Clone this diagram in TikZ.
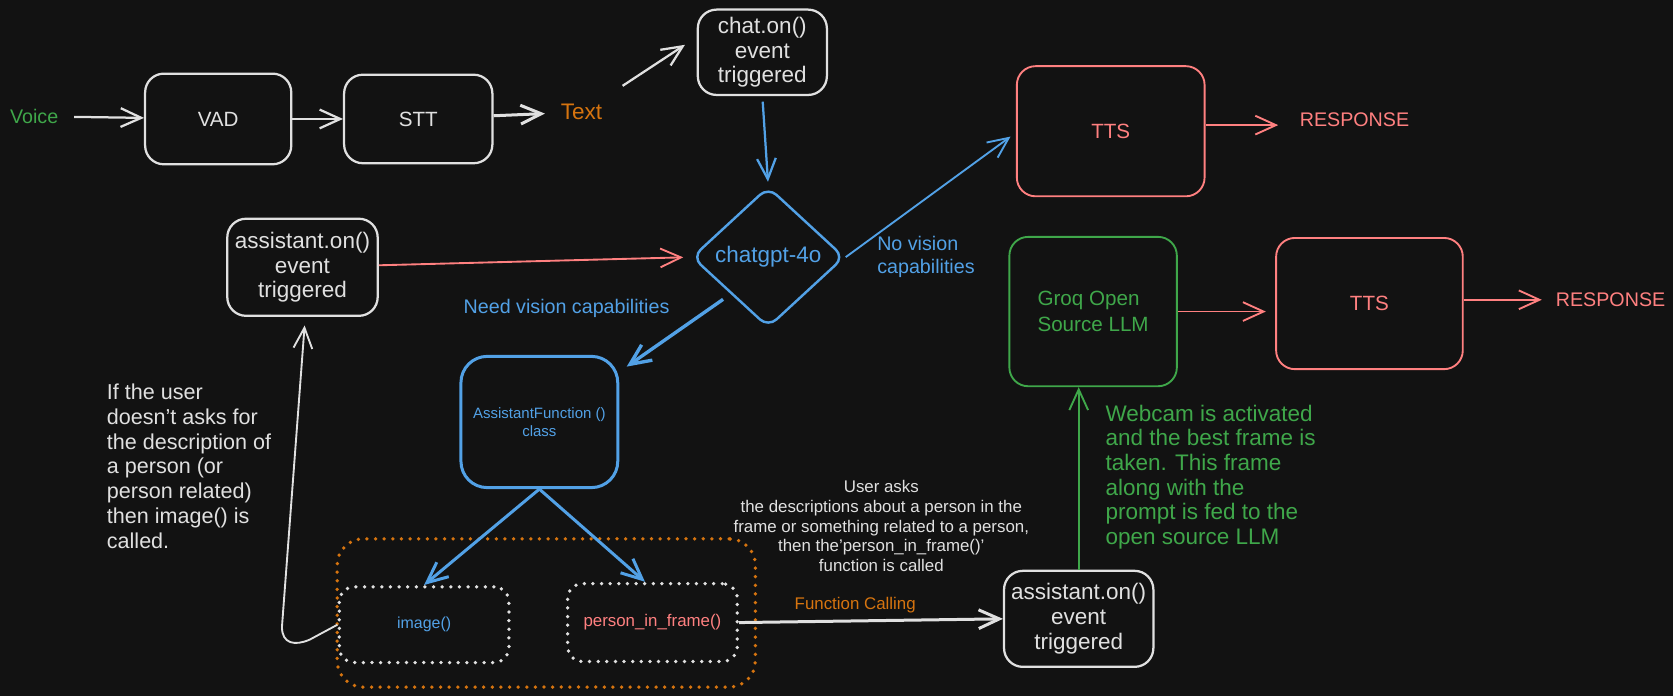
\documentclass[tikz,border=0pt]{standalone}
\usepackage{fontspec}
\setmainfont{Liberation Sans}
\usepackage{tikz}
\usetikzlibrary{arrows.meta,positioning,shapes.geometric}

\definecolor{bgc}{HTML}{121212}
\definecolor{wht}{HTML}{E0E0E0}
\definecolor{grn}{HTML}{3FA74A}
\definecolor{org}{HTML}{D6740F}
\definecolor{blu}{HTML}{52A1E6}
\definecolor{rd}{HTML}{FF8080}

\newcommand{\fs}[2]{\fontsize{#1}{#2}\selectfont}

\begin{document}
\begin{tikzpicture}[
    x=0.02cm, y=-0.02cm,
    box/.style={rectangle, draw=wht, rounded corners=10pt, line width=1.2pt, align=center, text=wht, inner sep=2pt},
    redbox/.style={box, draw=rd, text=rd, line width=1pt},
    dotbox/.style={rectangle, draw=wht, rounded corners=8pt, line width=2pt, line cap=round, dash pattern=on 0pt off 4.6pt, align=center},
    arr/.style={-{Straight Barb[length=11pt,width=10pt]}, line width=1.2pt, wht},
    note/.style={align=left, text=wht, anchor=west}
]
\fill[bgc] (0,0) rectangle (1568,652);

% Input chain
\node[text=grn, font=\fs{10.5}{12}] (voice) at (32,109) {Voice};
\node[box, minimum width=2.74cm, minimum height=1.70cm, font=\fs{11}{13}] (vad) at (204.5,111.5) {VAD};
\node[box, minimum width=2.78cm, minimum height=1.66cm, font=\fs{11}{13}] (stt) at (392,111.5) {STT};
\node[text=org, font=\fs{12}{14}] (txt) at (545,105) {Text};
\node[box, minimum width=2.42cm, minimum height=1.60cm, font=\fs{12}{13.2}] (chaton) at (714.5,49) {chat.on()\\event\\triggered};

% Decision
\node[diamond, draw=blu, text=blu, line width=1.3pt, rounded corners=6pt, minimum width=2.86cm, minimum height=2.64cm, inner sep=0pt, font=\fs{12}{14}] (gpt) at (720,241) {chatgpt-4o};
\node[redbox, minimum width=3.52cm, minimum height=2.44cm, font=\fs{11}{13}] (tts1) at (1041,123) {TTS};
\node[text=rd, anchor=west, font=\fs{10.5}{12}] (resp1) at (1212,112) {RESPONSE};
\node[note, text=blu, font=\fs{10.5}{12.5}] (novis) at (816,241) {No vision\\capabilities};
\node[box, minimum width=2.82cm, minimum height=1.82cm, font=\fs{12}{13.2}] (asst1) at (283.5,250.5) {assistant.on()\\event\\triggered};
\node[text=blu, font=\fs{10.5}{12}] (needvis) at (531,289) {Need vision capabilities};

% Function calling
\node[box, draw=blu, text=blu, line width=1.6pt, rounded corners=14pt, minimum width=2.94cm, minimum height=2.46cm, font=\fs{8}{9.6}] (af) at (505.5,395.5) {AssistantFunction ()\\class};
\node[dotbox, draw=org, rounded corners=14pt, minimum width=7.84cm, minimum height=2.78cm] (grp) at (512,574.5) {};
\node[dotbox, text=blu, minimum width=3.18cm, minimum height=1.42cm, font=\fs{8.5}{10}] (img) at (397.5,585.5) {image()};
\node[dotbox, text=rd, minimum width=3.18cm, minimum height=1.46cm, font=\fs{9}{11}] (pif) at (611.5,583.5) {person\_in\_frame()};
\node[note, font=\fs{11.5}{13.3}] (why) at (94,437) {If the user\\doesn't asks for\\the description of\\a person (or\\person related)\\then image() is\\called.};
\node[text=wht, align=center, font=\fs{9}{10.5}] (ask) at (826,493) {User asks\\the descriptions about a person in the\\frame or something related to a person,\\then the'person\_in\_frame()'\\function is called};

% Vision branch
\node[box, minimum width=2.80cm, minimum height=1.80cm, font=\fs{12}{13.2}] (asst2) at (1011,580) {assistant.on()\\event\\triggered};
\node[box, draw=grn, text=grn, line width=1pt, align=left, minimum width=3.14cm, minimum height=2.80cm, font=\fs{11}{13.6}] (groq) at (1024.5,292) {Groq Open\\Source LLM};
\node[redbox, minimum width=3.50cm, minimum height=2.46cm, font=\fs{11}{13}] (tts2) at (1283.5,284.5) {TTS};
\node[text=rd, anchor=west, font=\fs{10.5}{12}] (resp2) at (1452,281) {RESPONSE};
\node[note, text=grn, font=\fs{12}{13.1}] (cam) at (1030,447) {Webcam is activated\\and the best frame is\\taken. This frame\\along with the\\prompt is fed to the\\open source LLM};

% Arrows
\draw[arr, shorten <=5pt] (voice) -- (vad);
\draw[arr] (vad) -- (stt);
\draw[arr, line width=1.6pt, shorten >=5pt] (stt) -- (txt);
\draw[arr] ([shift={(13,-11)}]txt.north east) -- ([shift={(-11,-7)}]chaton.west);
\draw[arr, blu, shorten <=3pt, shorten >=2pt] (chaton.south) -- (gpt.north);
\draw[arr, blu, line width=1pt] (gpt.east) -- ([shift={(-5,5)}]tts1.west);
\draw[arr, rd, line width=1pt, shorten >=8pt] ([yshift=-3pt]tts1.east |- resp1) -- ([yshift=-3pt]resp1.west);
\draw[arr, rd, line width=1pt, shorten >=4pt] (asst1) -- (gpt.west);
\draw[arr, blu, line width=1.8pt] ([shift={(-6,6)}]gpt.south west) -- ([shift={(7,11)}]af.north east);
\draw[arr, blu, line width=1.6pt] (af.south) -- (img.north);
\draw[arr, blu, line width=1.6pt] (af.south) -- ([xshift=-4pt]pif.north);
\draw[arr, line width=1pt] (img.west) -- ++(-26,14) .. controls +(-14,6) and +(0,16) .. ++(-26,-12) -- ([shift={(2,8)}]asst1.south);
\draw[arr, line width=1.6pt] (pif.east) -- node[above, pos=0.44, text=org, font=\fs{9}{11}] (fc) {Function Calling} (asst2.west);
\draw[arr, grn, line width=1pt] (asst2.north) -- (asst2.north |- groq.south);
\draw[arr, rd, line width=1pt, shorten >=5pt] (groq.east) -- (groq.east -| tts2.west);
\draw[arr, rd, line width=1pt, shorten >=4pt] ([yshift=2pt]tts2.east) -- ([yshift=2pt]tts2.east -| resp2.west);
\end{tikzpicture}
\end{document}
